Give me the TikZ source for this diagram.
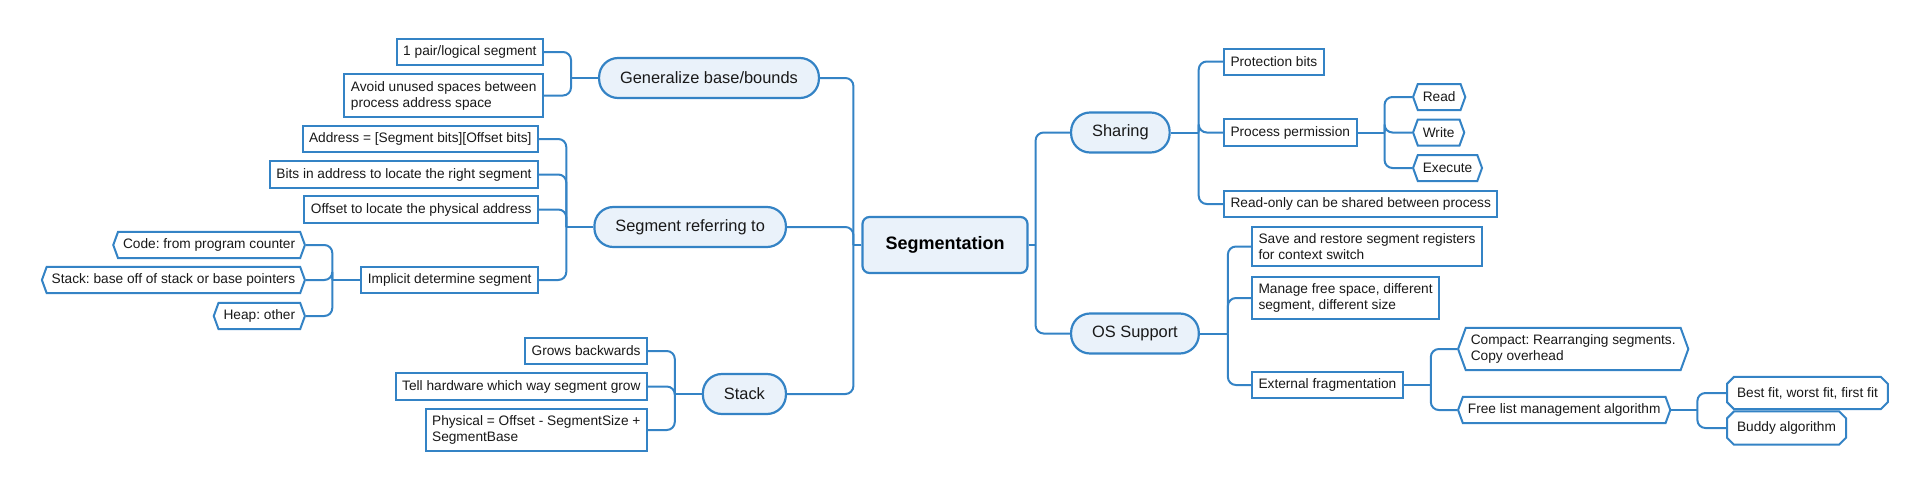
\documentclass[tikz,border=0pt]{standalone}
\usepackage{fontspec}
\setmainfont{Liberation Sans}
\usepackage{tikz}
\usetikzlibrary{calc}
\usetikzlibrary{shapes.symbols}
\usetikzlibrary{shapes.misc}
\frenchspacing
\definecolor{mapblue}{RGB}{52,131,197}
\definecolor{mapfill}{RGB}{234,242,250}
\definecolor{maptext}{RGB}{25,25,25}
\tikzset{
    link/.style={draw=mapblue, line width=2pt},
    leaf/.style={
        draw=mapblue, line width=2pt, fill=white, text=maptext,
        font=\fontsize{13.7}{16}\selectfont, align=left,
        inner xsep=6.5pt, inner ysep=6.8pt, minimum height=26pt
    },
    hexleaf/.style={leaf, signal, signal to=west and east, signal pointer angle=140, inner xsep=5pt},
    octleaf/.style={leaf, chamfered rectangle, chamfered rectangle xsep=3.5pt, chamfered rectangle ysep=3.5pt},
    topic/.style={
        draw=mapblue, line width=2.2pt, fill=mapfill, text=maptext,
        rounded corners=19pt, minimum height=40pt, inner xsep=21pt,
        font=\fontsize{16.4}{20}\selectfont
    },
    root/.style={
        draw=mapblue, line width=2.2pt, fill=mapfill, text=black,
        rounded corners=7pt, minimum height=56pt, inner xsep=23pt,
        font=\fontsize{18}{22}\selectfont\bfseries
    }
}
% parent, child, gap to the bracket
\newcommand{\branchR}[3] {
	\draw[link] (#1.east) -- ++(#3,0);
	\draw[link, rounded corners=8pt] ($(#1.east)+(#3,0)$) |- (#2.west);
}
\newcommand{\branchL}[3] {
	\draw[link] (#1.west) -- ++(-#3,0);
	\draw[link, rounded corners=8pt] ($(#1.west)+(-#3,0)$) |- (#2.east);
}

\begin{document}
\begin{tikzpicture}[x=1pt, y=-1pt]
		\useasboundingbox (0,0) rectangle (1930,490);

		% Root
		\node[root] (seg) at (945,245) {Segmentation};

		% Left topics
		\node[topic, anchor=east] (gen) at (820,78) {Generalize base/bounds};
		\node[topic, anchor=east] (ref) at (787,227) {Segment referring to};
		\node[topic, anchor=east] (stk) at (787,394) {Stack};

		\node[leaf, anchor=east] (gen1) at (544,52) {1 pair/logical segment};
		\node[leaf, anchor=east] (gen2) at (544,95.5) {Avoid unused spaces between\\process address space};

		\node[leaf, anchor=east] (ref1) at (539,139) {Address = [Segment bits][Offset bits]};
		\node[leaf, anchor=east] (ref2) at (539,174.5) {Bits in address to locate the right segment};
		\node[leaf, anchor=east] (ref3) at (539,209.5) {Offset to locate the physical address};
		\node[leaf, anchor=east] (ref4) at (539,280) {Implicit determine segment};

		\node[hexleaf, anchor=east] (imp1) at (306,245) {Code: from program counter};
		\node[hexleaf, anchor=east] (imp2) at (306,280) {Stack: base off of stack or base pointers};
		\node[hexleaf, anchor=east] (imp3) at (306,316) {Heap: other};

		\node[leaf, anchor=east] (stk1) at (648,351) {Grows backwards};
		\node[leaf, anchor=east] (stk2) at (648,386.5) {Tell hardware which way segment grow};
		\node[leaf, anchor=east] (stk3) at (648,430) {Physical = Offset - SegmentSize +\\SegmentBase};

		% Right topics
		\node[topic, anchor=west] (shr) at (1070,132.5) {Sharing};
		\node[topic, anchor=west] (oss) at (1070,333.5) {OS Support};

		\node[leaf, anchor=west] (shr1) at (1223,61.5) {Protection bits};
		\node[leaf, anchor=west] (shr2) at (1223,132.5) {Process permission};
		\node[leaf, anchor=west] (shr3) at (1223,204) {Read-only can be shared between process};

		\node[hexleaf, anchor=west] (perm1) at (1412,97) {Read};
		\node[hexleaf, anchor=west] (perm2) at (1412,132.5) {Write};
		\node[hexleaf, anchor=west] (perm3) at (1412,168) {Execute};

		\node[leaf, anchor=west] (oss1) at (1251,246.5) {Save and restore segment registers\\for context switch};
		\node[leaf, anchor=west] (oss2) at (1251,298) {Manage free space, different\\segment, different size};
		\node[leaf, anchor=west] (oss3) at (1251,385) {External fragmentation};

		\node[hexleaf, anchor=west] (ext1) at (1457,349) {Compact: Rearranging segments.\\Copy overhead};
		\node[hexleaf, anchor=west] (ext2) at (1457,410) {Free list management algorithm};

		\node[octleaf, anchor=west] (alg1) at (1726,393) {Best fit, worst fit, first fit};
		\node[octleaf, anchor=west] (alg2) at (1726,428) {Buddy algorithm};

		% Connectors
		\branchL{seg}{gen}{8}
		\branchL{seg}{ref}{8}
		\branchL{seg}{stk}{8}
		\branchR{seg}{shr}{7}
		\branchR{seg}{oss}{7}

		\branchL{gen}{gen1}{27}
		\branchL{gen}{gen2}{27}
		\branchL{ref}{ref1}{27}
		\branchL{ref}{ref2}{27}
		\branchL{ref}{ref3}{27}
		\branchL{ref}{ref4}{27}
		\branchL{ref4}{imp1}{28}
		\branchL{ref4}{imp2}{28}
		\branchL{ref4}{imp3}{28}
		\branchL{stk}{stk1}{27}
		\branchL{stk}{stk2}{27}
		\branchL{stk}{stk3}{27}

		\branchR{shr}{shr1}{28}
		\branchR{shr}{shr2}{28}
		\branchR{shr}{shr3}{28}
		\branchR{shr2}{perm1}{27}
		\branchR{shr2}{perm2}{27}
		\branchR{shr2}{perm3}{27}
		\branchR{oss}{oss1}{28}
		\branchR{oss}{oss2}{28}
		\branchR{oss}{oss3}{28}
		\branchR{oss3}{ext1}{27}
		\branchR{oss3}{ext2}{27}
		\branchR{ext2}{alg1}{26}
		\branchR{ext2}{alg2}{26}

	\end{tikzpicture}
\end{document}
